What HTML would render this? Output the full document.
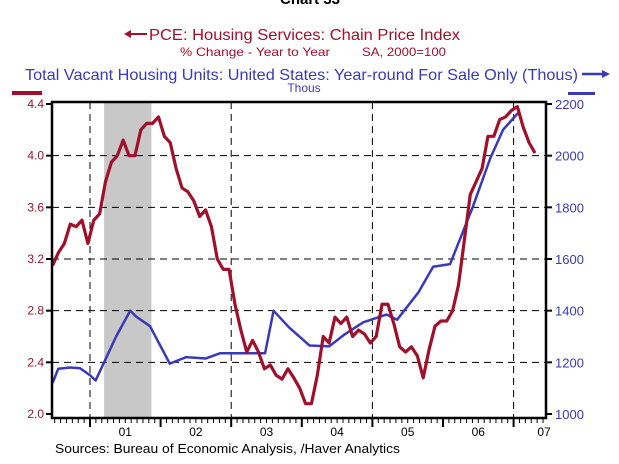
<!DOCTYPE html>
<html><head><meta charset="utf-8"><style>
body{margin:0;background:#fff;width:619px;height:459px;overflow:hidden;font-family:"Liberation Sans",sans-serif}
</style></head><body>
<svg id="c" width="619" height="459" xmlns="http://www.w3.org/2000/svg" font-family="Liberation Sans, sans-serif">
<text x="310" y="4" text-anchor="middle" font-size="15" font-weight="bold" fill="#000">Chart 33</text>
<g fill="#a0102a">
<line x1="128" y1="34" x2="147" y2="34" stroke="#a0102a" stroke-width="2"/><polygon points="124,34 131,30 131,38"/>
<text x="149" y="40" font-size="16" textLength="311" lengthAdjust="spacingAndGlyphs">PCE: Housing Services: Chain Price Index</text>
<text x="180" y="56" font-size="12" textLength="150" lengthAdjust="spacingAndGlyphs">% Change - Year to Year</text>
<text x="362" y="56" font-size="12" textLength="84" lengthAdjust="spacingAndGlyphs">SA, 2000=100</text>
</g>
<g fill="#3a3ab8">
<text x="25" y="80" font-size="16" textLength="553" lengthAdjust="spacingAndGlyphs">Total Vacant Housing Units: United States: Year-round For Sale Only (Thous)</text>
<line x1="582" y1="74" x2="603" y2="74" stroke="#3a3ab8" stroke-width="2.5"/><polygon points="610,74 602,70 602,78"/>
<text x="304" y="92" text-anchor="middle" font-size="12">Thous</text>
</g>
<rect x="12" y="91" width="30" height="4" fill="#a0102a"/>
<rect x="568" y="92" width="27" height="3" fill="#3a3ab8"/>
<g id="plot"></g>
<text x="55" y="453" font-size="13" fill="#000" textLength="345" lengthAdjust="spacingAndGlyphs">Sources:  Bureau of Economic Analysis,  /Haver Analytics</text>
</svg>
<script>
const leftTicks=[2.0,2.4,2.8,3.2,3.6,4.0,4.4];
const rightTicks=[1000,1200,1400,1600,1800,2000,2200];
const yearLabels=["01","02","03","04","05","06","07"];
const recession=[2001.2,2001.87];
const redStart=2000.47;
const redValues=[3.15,3.25,3.32,3.47,3.45,3.5,3.32,3.5,3.55,3.8,3.95,4.0,4.12,4.0,4.0,4.2,4.25,4.25,4.3,4.15,4.1,3.9,3.75,3.72,3.65,3.53,3.58,3.45,3.2,3.12,3.12,2.85,2.65,2.48,2.57,2.48,2.35,2.38,2.3,2.27,2.35,2.28,2.2,2.08,2.08,2.3,2.6,2.55,2.75,2.7,2.75,2.6,2.65,2.62,2.55,2.6,2.85,2.85,2.7,2.52,2.48,2.52,2.45,2.28,2.5,2.68,2.72,2.72,2.8,3.0,3.35,3.7,3.8,3.9,4.15,4.15,4.28,4.3,4.35,4.38,4.22,4.1,4.02];
const blueDates=[2000.47,2000.55,2000.72,2000.86,2001.0,2001.08,2001.2,2001.37,2001.57,2001.65,2001.85,2002.13,2002.36,2002.64,2002.84,2003.2,2003.48,2003.6,2003.82,2004.11,2004.39,2004.59,2004.87,2005.2,2005.35,2005.65,2005.86,2006.1,2006.42,2006.67,2006.85,2007.08];
const blueValues=[1120,1175,1180,1177,1150,1130,1200,1300,1400,1378,1340,1195,1220,1215,1235,1235,1235,1400,1335,1265,1262,1305,1355,1385,1365,1470,1570,1580,1800,1990,2100,2170];

const X0=52,X1=546,T0=102,B0=418;
const x=d=>90+(d-2001)*70.6;
const yL=v=>104+(4.4-v)*129.17;
const yR=v=>104+(2200-v)*0.25833;
const NS='http://www.w3.org/2000/svg';
const g=document.getElementById('plot');
function mk(t,a,p){const e=document.createElementNS(NS,t);for(const k in a)e.setAttribute(k,a[k]);(p||g).appendChild(e);return e;}
let r=mk('rect',{x:x(recession[0]),y:T0,width:x(recession[1])-x(recession[0]),height:B0-T0,fill:'#c8c8c8'});


leftTicks.forEach((v,i)=>{
  if(i>0&&i<leftTicks.length-1){let l=mk('line',{x1:X0,x2:X1,y1:yL(v),y2:yL(v),stroke:'#000','stroke-dasharray':'7,5'});
  
  }
  mk('line',{x1:X0-6,x2:X0,y1:yL(v),y2:yL(v),stroke:'#000','stroke-width':2});
  let t=mk('text',{x:X0-8,y:yL(v)+4,'text-anchor':'end','font-size':12,fill:'#a0102a'});
  t.textContent=v.toFixed(1);
  
  
});
rightTicks.forEach(v=>{
  mk('line',{x1:X1,x2:X1+6,y1:yR(v),y2:yR(v),stroke:'#000','stroke-width':2});
  let t=mk('text',{x:X1+9,y:yR(v)+5,'font-size':13,fill:'#3a3ab8'});
  t.textContent=v;
  
  
});
for(let yr=2001;yr<=2007;yr+=2){let l=mk('line',{x1:x(yr),x2:x(yr),y1:T0,y2:B0,stroke:'#000','stroke-dasharray':'7,5'});

}
for(let m=0;;m++){const d=2000.5+m/12;const xx=x(d);if(xx>X1)break;if(xx<X0)continue;
  const major=Math.abs(d-Math.round(d))<0.01;mk('line',{x1:xx,x2:xx,y1:B0,y2:B0+(major?9:5),stroke:'#000','stroke-width':major?2:1});}
yearLabels.forEach((s,i)=>{let xx=Math.min(x(2001.5+i),X1-2);let t=mk('text',{x:xx,y:B0+18,'text-anchor':'middle','font-size':12,fill:'#000'});
t.textContent=s;

});
let bl=mk('polyline',{points:blueDates.map((d,i)=>x(d)+','+yR(blueValues[i])).join(' '),fill:'none',stroke:'#3a3ab8','stroke-width':2.5,'stroke-linejoin':'round'});


let rl=mk('polyline',{points:redValues.map((v,i)=>x(redStart+i/12)+','+yL(v)).join(' '),fill:'none',stroke:'#a0102a','stroke-width':3.2,'stroke-linejoin':'round'});


let fr=mk('rect',{x:X0,y:T0,width:X1-X0,height:B0-T0,fill:'none',stroke:'#000','stroke-width':2.5});


</script>
</body></html>
